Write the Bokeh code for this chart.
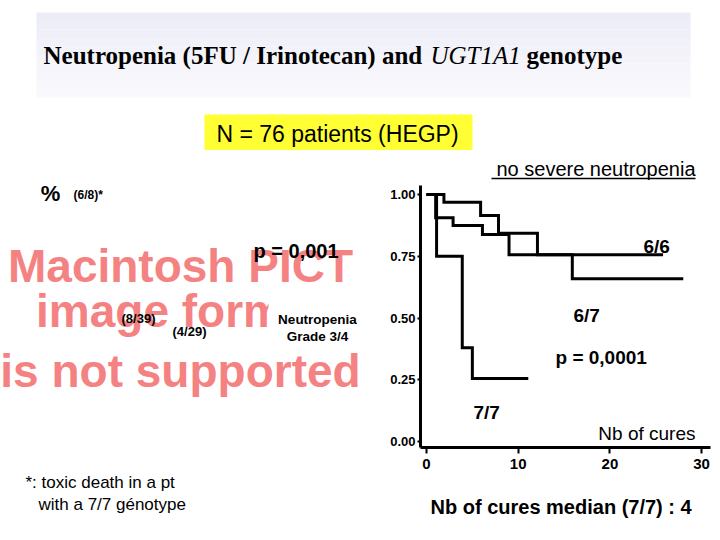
from bokeh.plotting import figure
from bokeh.models import Label, Range1d, FixedTicker, NumeralTickFormatter
from bokeh.core.properties import value
from bokeh.layouts import column, row
from bokeh.embed import file_html
from bokeh.resources import INLINE

# ---- data (Kaplan-Meier: proportion without severe neutropenia vs number of cures)
cures_66 = [0, 1.9, 5.9, 7.85, 12.1, 25.8]
surv_66 = [1.0, 0.969, 0.915, 0.843, 0.756, 0.756]
cures_67 = [0, 1.0, 2.9, 6.1, 9.0, 15.9, 28.0]
surv_67 = [1.0, 0.906, 0.874, 0.838, 0.756, 0.659, 0.659]
cures_77 = [0, 1.1, 3.9, 5.0, 11.1]
surv_77 = [1.0, 0.75, 0.38, 0.255, 0.255]
y_ticks = [0, 0.25, 0.5, 0.75, 1.0]
x_ticks = [0, 10, 20, 30]

TOTAL_W = 718
TOP_H = 150
LEFT_W = 380
KM_H = 330
BOT_H = 60
FL, FT, FB = 420, TOP_H, 447   # KM frame left / top / bottom (page px)


def deco_fig(x0, x1, y0, y1, border_left=0):
    """A figure whose data coordinates are page pixels (y downwards)."""
    f = figure(width=x1 - x0 + border_left, height=y1 - y0,
               x_range=Range1d(x0, x1), y_range=Range1d(y1, y0),
               toolbar_location=None, output_backend="svg",
               x_axis_location=None, y_axis_location=None, min_border=0,
               min_border_left=border_left)
    f.outline_line_color = None
    f.grid.visible = False
    f.background_fill_color = "white"
    f.border_fill_color = "white"
    return f


def lab(f, x, y, s, size, style="normal", font="Liberation Sans", align="left",
        baseline="middle", color="black"):
    f.add_layout(Label(x=x, y=y, text=s, text_font=font, text_font_size=f"{size}px",
                       text_font_style=style, text_align=align, text_baseline=baseline,
                       text_color=color))


def rect(f, x0, y0, x1, y1, color):
    f.quad(left=[x0], right=[x1], top=[y0], bottom=[y1], fill_color=color, line_color=None)


# ---------------- top strip: title band, title, yellow box
top = deco_fig(0, TOTAL_W, 0, TOP_H)
band = ["#ececf7", "#eeeef8", "#efeff8", "#f1f1f9", "#f2f2fa",
        "#f4f4fa", "#f5f5fb", "#f6f6fb", "#f8f8fc", "#f9f9fd"]
step_h = (97 - 12) / len(band)
for i, c in enumerate(band):
    rect(top, 36, 12 + i * step_h, 690, 12 + (i + 1) * step_h, c)
lab(top, 43, 55, "Neutropenia (5FU / Irinotecan) and", 25, "bold", "Liberation Serif")
lab(top, 430, 55, "UGT1A1", 25, "italic", "Liberation Serif")
lab(top, 526, 55, "genotype", 25, "bold", "Liberation Serif")
rect(top, 204, 114, 472, 151, "#ffff33")
lab(top, 337, 133, "N = 76 patients (HEGP)", 23, align="center")

# ---------------- left panel: placeholder picture and its labels, footnote
left = deco_fig(0, LEFT_W, TOP_H, TOP_H + KM_H + BOT_H)
pink = "#f58282"
left.text(x=[180, 180, 180], y=[265, 310, 370],
          text=["Macintosh PICT", "image format", "is not supported"],
          text_font=value("Liberation Sans"), text_font_size=value("46px"),
          text_font_style="bold", text_color=pink, text_align="center",
          text_baseline="middle")
rect(left, 268, 289, 380, 349, "white")   # white label box covering the picture
lab(left, 50, 193, "%", 22, "bold", align="center")
lab(left, 73, 194, "(6/8)*", 12, "bold")
lab(left, 253, 250, "p = 0,001", 20, "bold")
lab(left, 121, 318, "(8/39)", 13, "bold")
lab(left, 172, 331, "(4/29)", 13, "bold")
lab(left, 317, 319, "Neutropenia", 13.5, "bold", align="center")
lab(left, 317, 336, "Grade 3/4", 13.5, "bold", align="center")
lab(left, 25, 482, "*: toxic death  in a pt", 17)
lab(left, 38, 504, "with a 7/7 génotype", 17)

# ---------------- Kaplan-Meier plot
X0PX, XSCALE = 426, 9.17     # page px of cure 0, px per cure
Y0PX, YSCALE = 441, 247      # page px of proportion 0, px per 1.0


def dx(X):
    return (X - X0PX) / XSCALE


def dy(Y):
    return (Y0PX - Y) / YSCALE


km = figure(width=TOTAL_W - LEFT_W, height=KM_H,
            x_range=Range1d(dx(FL), dx(TOTAL_W)), y_range=Range1d(dy(FB), dy(FT)),
            toolbar_location=None, output_backend="svg",
            min_border_left=FL - LEFT_W, min_border_right=0,
            min_border_top=0, min_border_bottom=TOP_H + KM_H - FB)
km.background_fill_color = "white"
km.border_fill_color = "white"
km.outline_line_color = None
km.grid.visible = False

for ax in (km.xaxis, km.yaxis):
    ax.axis_line_width = 3
    ax.axis_line_color = "black"
    ax.major_tick_line_width = 2
    ax.major_tick_in = 0
    ax.minor_tick_line_color = None
    ax.major_label_text_font = "Liberation Sans"
    ax.major_label_text_font_style = "bold"
    ax.major_label_text_color = "black"

km.xaxis.ticker = FixedTicker(ticks=x_ticks)
km.xaxis.bounds = (dx(FL), dx(710))
km.xaxis.major_tick_out = 6
km.xaxis.major_label_standoff = 5
km.xaxis.major_label_text_font_size = "15px"

km.yaxis.ticker = FixedTicker(ticks=y_ticks)
km.yaxis.bounds = (dy(FB), dy(185))
km.yaxis.formatter = NumeralTickFormatter(format="0.00")
km.yaxis.major_tick_out = 3
km.yaxis.major_label_standoff = 2
km.yaxis.major_label_text_font_size = "13px"

for xs, ys in ((cures_66, surv_66), (cures_67, surv_67), (cures_77, surv_77)):
    km.step(xs, ys, mode="after", line_color="black", line_width=3, line_join="miter")


def kmlab(X, Y, s, size, style="normal", align="left"):
    lab(km, dx(X), dy(Y), s, size, style, align=align)


kmlab(695, 168, "no severe neutropenia", 20, align="right")
km.segment(x0=[dx(491)], y0=[dy(178)], x1=[dx(695)], y1=[dy(178)], line_color="black", line_width=1.5)
kmlab(643, 246, "6/6", 19, "bold")
kmlab(573, 315, "6/7", 19, "bold")
kmlab(555, 357, "p = 0,0001", 19, "bold")
kmlab(473, 412, "7/7", 19, "bold")
kmlab(695, 433, "Nb of cures", 19, align="right")

# ---------------- strip under the KM plot (frame aligned with the KM frame)
bot = deco_fig(FL, TOTAL_W, TOP_H + KM_H, TOP_H + KM_H + BOT_H, border_left=FL - LEFT_W)
lab(bot, 430, 506, "Nb of cures median (7/7) : 4", 20, "bold")

layout = column(top, row(left, column(km, bot, spacing=0), spacing=0), spacing=0)
open("out.html", "w").write(file_html(layout, INLINE))
